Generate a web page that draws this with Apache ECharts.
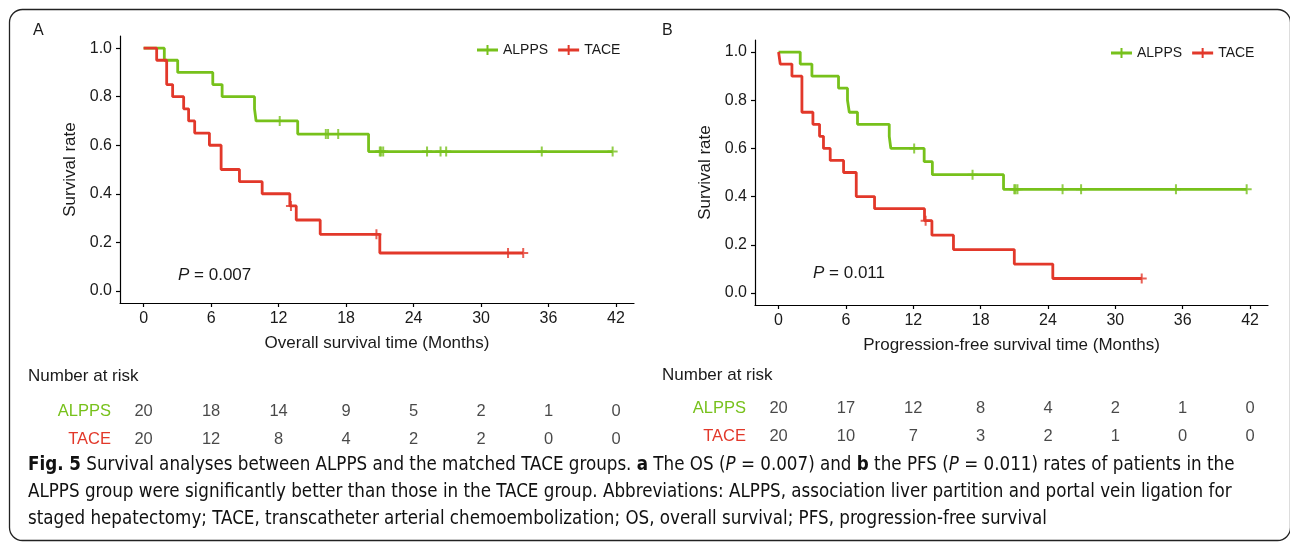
<!DOCTYPE html>
<html>
<head>
<meta charset="utf-8">
<script src="https://cdn.jsdelivr.net/npm/echarts@6.0.0/dist/echarts.min.js"></script>
<style>
html, body { margin: 0; padding: 0; background: #fff; }
#main { width: 1290px; height: 544px; }
</style>
</head>
<body>
<div id="main"></div>
<script>
// ---- data ----
// A: overall survival (step times / survival after each step)
var osAlppsT = [0, 1.84, 3.03, 6.15, 6.98, 9.86, 10.0, 13.7, 20.0, 41.7];
var osAlppsS = [1.0, 0.95, 0.90, 0.85, 0.80, 0.75, 0.70, 0.646, 0.574, 0.574];
var osAlppsCensor = [12.1, 16.2, 16.4, 17.3, 21.0, 21.1, 21.3, 25.2, 26.4, 26.9, 35.4, 41.7];
var osTaceT = [0, 1.16, 2.05, 2.58, 3.56, 4.0, 4.54, 5.85, 6.89, 8.52, 10.54, 13.0, 13.57, 15.7, 21.0, 33.75];
var osTaceS = [1.0, 0.95, 0.85, 0.80, 0.75, 0.70, 0.65, 0.60, 0.50, 0.45, 0.40, 0.35, 0.292, 0.233, 0.156, 0.156];
var osTaceCensor = [13.1, 20.7, 32.4, 33.75];

// B: progression-free survival
var pfsAlppsT = [0, 1.93, 2.97, 5.34, 6.14, 6.3, 7.03, 9.86, 10.0, 12.97, 13.7, 20.04, 41.7];
var pfsAlppsS = [1.0, 0.95, 0.90, 0.85, 0.80, 0.75, 0.70, 0.65, 0.60, 0.545, 0.491, 0.43, 0.43];
var pfsAlppsCensor = [12.08, 17.28, 21.0, 21.1, 21.28, 25.3, 26.95, 35.4, 41.7];
var pfsTaceT = [0, 0.15, 1.19, 2.08, 3.06, 3.65, 4.0, 4.6, 5.79, 6.92, 8.55, 13.0, 13.66, 15.58, 21.0, 24.43, 32.35];
var pfsTaceS = [1.0, 0.95, 0.90, 0.75, 0.70, 0.65, 0.60, 0.55, 0.50, 0.40, 0.35, 0.30, 0.24, 0.18, 0.12, 0.06, 0.06];
var pfsTaceCensor = [13.1, 32.35];

// number at risk
var riskTimes = [0, 6, 12, 18, 24, 30, 36, 42];
var osRiskAlpps = [20, 18, 14, 9, 5, 2, 1, 0];
var osRiskTace = [20, 12, 8, 4, 2, 2, 0, 0];
var pfsRiskAlpps = [20, 17, 12, 8, 4, 2, 1, 0];
var pfsRiskTace = [20, 10, 7, 3, 2, 1, 0, 0];

var xTicks = [0, 6, 12, 18, 24, 30, 36, 42];
var yTicks = [0, 0.2, 0.4, 0.6, 0.8, 1.0];
var groups = ['ALPPS', 'TACE'];

var capLines = [
	'{b|Fig. 5} Survival analyses between ALPPS and the matched TACE groups. {b|a} The OS ({i|P} = 0.007) and {b|b} the PFS ({i|P} = 0.011) rates of patients in the',
	'ALPPS group were significantly better than those in the TACE group. Abbreviations: ALPPS, association liver partition and portal vein ligation for',
	'staged hepatectomy; TACE, transcatheter arterial chemoembolization; OS, overall survival; PFS, progression-free survival'
];

// ---- styling ----
var green = '#77c11b';
var red = '#e2382a';
var ink = '#1a1a1a';
var font = '"Liberation Sans", Arial, sans-serif';
var capFont = '"Liberation Sans Narrow", "DejaVu Sans Condensed", sans-serif';
var crossSym = 'path://M4,0h2v10h-2z M0,4h10v2h-10z';
var legendIcon = 'path://M0,3.5h21v3h-21z M9.5,0h2v10h-2z';

// caption size: fit the first line to the width it takes in the figure
var capSize = (function () {
	var c = document.createElement('canvas').getContext('2d');
	c.font = '20px ' + capFont;
	var plain = capLines[0].replace(/\{[a-z]\|([^}]*)\}/g, '$1');
	var w = c.measureText(plain).width;
	return Math.max(14, Math.min(22, 20 * 1196 / w));
})();

function steps(ts, ss) {
	return ts.map(function (t, i) { return [t, ss[i]]; });
}
function survAt(ts, ss, t) {
	var v = ss[0];
	for (var i = 0; i < ts.length; i++) { if (ts[i] <= t) v = ss[i]; }
	return v;
}
function marks(cs, ts, ss) {
	return cs.map(function (t) { return [t, survAt(ts, ss, t)]; });
}
function riskRow(vals, g) {
	return riskTimes.map(function (t, i) { return [t, g, vals[i]]; });
}

function mainX(idx, title) {
	return {
		gridIndex: idx, type: 'value', min: -2.1, max: 43.6,
		axisLine: { show: true, onZero: false, lineStyle: { color: '#000', width: 1.2 } },
		axisTick: { show: true, length: 4, customValues: xTicks, lineStyle: { color: '#000', width: 1.2 } },
		axisLabel: { customValues: xTicks, fontSize: 16, color: ink, fontFamily: font, margin: 8 },
		splitLine: { show: false },
		name: title, nameLocation: 'middle', nameGap: 32,
		nameTextStyle: { fontSize: 17, color: ink, fontFamily: font }
	};
}
function mainY(idx) {
	return {
		gridIndex: idx, type: 'value', min: -0.05, max: 1.05,
		axisLine: { show: true, onZero: false, lineStyle: { color: '#000', width: 1.2 } },
		axisTick: { show: true, length: 4, customValues: yTicks, lineStyle: { color: '#000', width: 1.2 } },
		axisLabel: { customValues: yTicks, fontSize: 16, color: ink, fontFamily: font, margin: 8,
			formatter: function (v) { return v.toFixed(1); } },
		splitLine: { show: false },
		name: 'Survival rate', nameLocation: 'middle', nameGap: 41,
		nameTextStyle: { fontSize: 17, color: ink, fontFamily: font }
	};
}
// risk tables share the time scale of the plots above them
function riskX(idx) {
	return { gridIndex: idx, type: 'value', min: -2.1, max: 43.6, show: false };
}
function riskY(idx) {
	return {
		gridIndex: idx, type: 'category', data: groups, inverse: true,
		axisLine: { show: false }, axisTick: { show: false },
		axisLabel: {
			margin: 9, fontSize: 16.5, fontFamily: font,
			formatter: function (v) { return v == 'ALPPS' ? '{g|ALPPS}' : '{r|TACE}'; },
			rich: { g: { color: green, fontSize: 16.5, fontFamily: font }, r: { color: red, fontSize: 16.5, fontFamily: font } }
		}
	};
}
function kmLine(name, data, color, ax) {
	return { name: name, type: 'line', step: 'end', data: data, xAxisIndex: ax, yAxisIndex: ax,
		symbol: 'none', lineStyle: { color: color, width: 2.8 }, itemStyle: { color: color }, z: name == 'TACE' ? 4 : 3 };
}
function censor(name, data, color, ax) {
	return { name: name, type: 'scatter', data: data, xAxisIndex: ax, yAxisIndex: ax,
		symbol: crossSym, symbolSize: 10, itemStyle: { color: color }, z: 5 };
}
function riskSeries(data, ax) {
	return { type: 'scatter', data: data, xAxisIndex: ax, yAxisIndex: ax, symbolSize: 1,
		itemStyle: { color: 'transparent' },
		label: { show: true, position: 'inside', fontSize: 16.5, color: ink, fontFamily: font,
			formatter: function (p) { return p.value[2]; } } };
}
function txt(x, y, s, opts) {
	var st = { text: s, x: 0, y: 0, fill: ink, font: '15px ' + font, verticalAlign: 'middle' };
	for (var k in opts) st[k] = opts[k];
	return { type: 'text', x: x, y: y, style: st, silent: true };
}

var myChart = echarts.init(document.getElementById('main'));
var italicRich = { i: { fontStyle: 'italic', fontSize: 17, fontFamily: font, fill: ink } };
var capRich = {
	b: { fontWeight: 'bold', fontSize: capSize, fontFamily: capFont, fill: '#111' },
	i: { fontStyle: 'italic', fontSize: capSize, fontFamily: capFont, fill: '#111' }
};
var capStyle = { rich: capRich, font: capSize + 'px ' + capFont, fill: '#111' };
var option = {
	animation: false,
	backgroundColor: '#fff',
	grid: [
		{ left: 120, top: 36, width: 514, height: 267 },
		{ left: 755, top: 40, width: 513, height: 265 },
		{ left: 120, top: 397, width: 514, height: 56 },
		{ left: 755, top: 394, width: 513, height: 56 }
	],
	xAxis: [mainX(0, 'Overall survival time (Months)'), mainX(1, 'Progression-free survival time (Months)'), riskX(2), riskX(3)],
	yAxis: [mainY(0), mainY(1), riskY(2), riskY(3)],
	legend: [
		{ left: 472, top: 38, itemWidth: 21, itemHeight: 10, itemGap: 10, data: [
			{ name: 'ALPPS', icon: legendIcon, itemStyle: { color: green } },
			{ name: 'TACE', icon: legendIcon, itemStyle: { color: red } }],
			textStyle: { fontSize: 14, color: ink, fontFamily: font } },
		{ left: 1106, top: 41, itemWidth: 21, itemHeight: 10, itemGap: 10, data: [
			{ name: 'ALPPS', icon: legendIcon, itemStyle: { color: green } },
			{ name: 'TACE', icon: legendIcon, itemStyle: { color: red } }],
			textStyle: { fontSize: 14, color: ink, fontFamily: font } }
	],
	series: [
		kmLine('ALPPS', steps(osAlppsT, osAlppsS), green, 0),
		censor('ALPPS', marks(osAlppsCensor, osAlppsT, osAlppsS), green, 0),
		kmLine('TACE', steps(osTaceT, osTaceS), red, 0),
		censor('TACE', marks(osTaceCensor, osTaceT, osTaceS), red, 0),
		kmLine('ALPPS', steps(pfsAlppsT, pfsAlppsS), green, 1),
		censor('ALPPS', marks(pfsAlppsCensor, pfsAlppsT, pfsAlppsS), green, 1),
		kmLine('TACE', steps(pfsTaceT, pfsTaceS), red, 1),
		censor('TACE', marks(pfsTaceCensor, pfsTaceT, pfsTaceS), red, 1),
		riskSeries(riskRow(osRiskAlpps, 'ALPPS').concat(riskRow(osRiskTace, 'TACE')), 2),
		riskSeries(riskRow(pfsRiskAlpps, 'ALPPS').concat(riskRow(pfsRiskTace, 'TACE')), 3)
	],
	graphic: [
		{ type: 'rect', shape: { x: 9.5, y: 9.5, width: 1281, height: 531, r: 13 },
			style: { fill: 'none', stroke: '#222', lineWidth: 1.3 }, silent: true, z: -1 },
		txt(33, 31, 'A', { font: '16px ' + font }),
		txt(662, 31, 'B', { font: '16px ' + font }),
		txt(178, 275, '{i|P} = 0.007', { rich: italicRich, font: '17px ' + font }),
		txt(813, 273, '{i|P} = 0.011', { rich: italicRich, font: '17px ' + font }),
		txt(28, 376, 'Number at risk', { font: '17px ' + font }),
		txt(662, 375, 'Number at risk', { font: '17px ' + font }),
		txt(28, 465, capLines[0], capStyle),
		txt(28, 492, capLines[1], capStyle),
		txt(28, 519, capLines[2], capStyle)
	]
};
myChart.setOption(option);
</script>
</body>
</html>
